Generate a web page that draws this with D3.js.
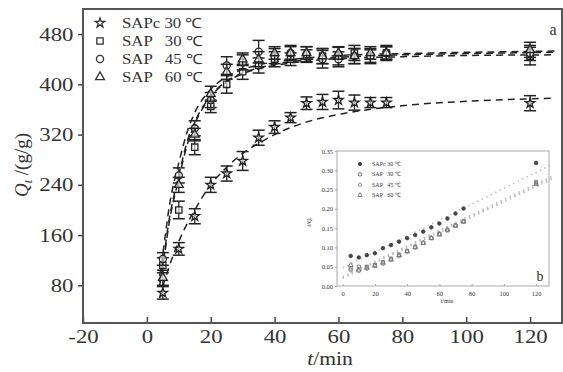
<!DOCTYPE html>
<html>
<head>
<meta charset="utf-8">
<script src="https://cdn.jsdelivr.net/npm/d3@7"></script>
<style>
  body { margin: 0; background: #fff; }
  svg { display: block; }
  text { font-family: "Liberation Serif", "Times New Roman", serif; fill: #333; }
</style>
</head>
<body>
<svg id="chart" width="563" height="372"></svg>
<script>
// main plot data (t in min, Qt in g/g)
var times = [5, 10, 15, 20, 25, 30, 35, 40, 45, 50, 55, 60, 65, 70, 75, 120];
var sapc30 = [68, 138, 190, 240, 258, 278, 315, 332, 347, 370, 372, 375, 371, 371, 371, 370];
var sapc30Err = [10, 10, 12, 12, 12, 15, 12, 10, 8, 10, 12, 14, 12, 8, 8, 12];
var sap30 = [112, 200, 300, 365, 400, 420, 430, 440, 440, 445, 445, 445, 450, 445, 450, 445];
var sap30Err = [12, 14, 12, 10, 14, 12, 12, 12, 10, 10, 12, 14, 12, 12, 10, 14];
var sap45 = [122, 255, 330, 375, 430, 435, 452, 445, 450, 448, 440, 440, 445, 445, 450, 450];
var sap45Err = [10, 12, 12, 12, 14, 12, 18, 12, 10, 12, 14, 12, 12, 10, 12, 12];
var sap60 = [92, 240, 320, 385, 420, 440, 440, 450, 450, 450, 445, 450, 445, 450, 450, 455];
var sap60Err = [12, 12, 10, 12, 12, 10, 12, 10, 12, 10, 12, 10, 12, 10, 10, 12];

var fitTimes = [4, 5, 7, 10, 13, 15, 20, 25, 30, 35, 40, 50, 60, 80, 100, 128];
var fitSapc30 = [60, 78, 110, 150, 182, 200, 240, 268, 290, 306, 320, 340, 352, 366, 373, 378];
var fitSap30 = [85, 115, 185, 255, 315, 340, 382, 405, 418, 426, 432, 439, 443, 447, 449, 451];
var fitSap45 = [95, 130, 205, 275, 330, 355, 392, 412, 424, 431, 436, 442, 446, 449, 451, 453];
var fitSap60 = [80, 110, 180, 250, 310, 337, 380, 404, 417, 425, 430, 437, 441, 444, 446, 447];

var xTicks = [-20, 0, 20, 40, 60, 80, 100, 120];
var yTicks = [80, 160, 240, 320, 400, 480];
var legendLabels = ["SAPc 30 \u2103", "SAP   30 \u2103", "SAP   45 \u2103", "SAP   60 \u2103"];

// inset data (t/Qt)
var insetSapc30 = [0.078, 0.074, 0.080, 0.085, 0.098, 0.106, 0.115, 0.124, 0.132, 0.141, 0.152, 0.162, 0.175, 0.188, 0.201, 0.319];
var insetSap30 = [0.045, 0.050, 0.050, 0.055, 0.062, 0.071, 0.081, 0.091, 0.102, 0.112, 0.124, 0.135, 0.144, 0.157, 0.167, 0.270];
var insetSap45 = [0.041, 0.039, 0.045, 0.053, 0.058, 0.069, 0.077, 0.090, 0.100, 0.112, 0.125, 0.136, 0.146, 0.157, 0.167, 0.267];
var insetSap60 = [0.054, 0.042, 0.047, 0.052, 0.060, 0.068, 0.080, 0.089, 0.100, 0.111, 0.124, 0.133, 0.146, 0.156, 0.167, 0.264];
var insetFitTimes = [0, 130];
var insetFitSapc30 = [0.047, 0.315];
var insetFitSap30 = [0.022, 0.281];
var insetFitSap45 = [0.020, 0.277];
var insetFitSap60 = [0.024, 0.285];
var insetXTicks = [0, 20, 40, 60, 80, 100, 120];
var insetYTicks = [0, 0.05, 0.10, 0.15, 0.20, 0.25, 0.30, 0.35];

var svg = d3.select("#chart");
var stretch = 1.2;

var x = d3.scaleLinear().domain([-20, 130]).range([83, 562]);
var y = d3.scaleLinear().domain([20, 520]).range([323, 9]);

var series = [
    { vals: sapc30, err: sapc30Err, fit: fitSapc30, shape: d3.symbolStar, size: 28 },
    { vals: sap30, err: sap30Err, fit: fitSap30, shape: d3.symbolSquare, size: 40 },
    { vals: sap45, err: sap45Err, fit: fitSap45, shape: d3.symbolCircle, size: 40 },
    { vals: sap60, err: sap60Err, fit: fitSap60, shape: d3.symbolTriangle, size: 34 }
];

// axes
var xAxis = svg.append("g")
    .attr("transform", "translate(0," + y.range()[0] + ")")
    .call(d3.axisBottom(x).tickValues(xTicks).tickFormat(function (d) { return String(d); })
        .tickSizeInner(-6).tickSizeOuter(0).tickPadding(7));
var yAxis = svg.append("g")
    .attr("transform", "translate(" + x.range()[0] + ",0)")
    .call(d3.axisLeft(y).tickValues(yTicks).tickSizeInner(5).tickSizeOuter(0).tickPadding(3));

[xAxis, yAxis].forEach(function (g) {
    g.select(".domain").remove();
    g.selectAll("line").attr("stroke", "#444").attr("stroke-width", 1.5);
    g.selectAll("text")
        .attr("font-size", 19)
        .attr("fill", "#333")
        .attr("transform", "scale(" + stretch + ",1)");
});

// frame
svg.append("rect")
    .attr("x", x.range()[0]).attr("y", y.range()[1])
    .attr("width", x.range()[1] - x.range()[0])
    .attr("height", y.range()[0] - y.range()[1])
    .attr("fill", "none").attr("stroke", "#555").attr("stroke-width", 2);

// fit curves
var fitLine = d3.line()
    .x(function (d, i) { return x(fitTimes[i]); })
    .y(function (d) { return y(d); })
    .curve(d3.curveMonotoneX);

series.forEach(function (s) {
    svg.append("path")
        .attr("d", fitLine(s.fit))
        .attr("fill", "none")
        .attr("stroke", "#222")
        .attr("stroke-width", 1.5)
        .attr("stroke-dasharray", "7,5");
});

// error bars and markers
series.forEach(function (s) {
    var g = svg.append("g");
    times.forEach(function (t, i) {
        var cx = x(t);
        var top = y(s.vals[i] + s.err[i]);
        var bot = y(s.vals[i] - s.err[i]);
        g.append("line").attr("x1", cx).attr("x2", cx).attr("y1", top).attr("y2", bot)
            .attr("stroke", "#222").attr("stroke-width", 1.3);
        g.append("line").attr("x1", cx - 6).attr("x2", cx + 6).attr("y1", top).attr("y2", top)
            .attr("stroke", "#222").attr("stroke-width", 1.5);
        g.append("line").attr("x1", cx - 6).attr("x2", cx + 6).attr("y1", bot).attr("y2", bot)
            .attr("stroke", "#222").attr("stroke-width", 1.5);
        g.append("path")
            .attr("transform", "translate(" + cx + "," + y(s.vals[i]) + ")")
            .attr("d", d3.symbol().type(s.shape).size(s.size)())
            .attr("fill", "#fff").attr("fill-opacity", 0.6)
            .attr("stroke", "#222").attr("stroke-width", 1.3);
    });
});

// legend
legendLabels.forEach(function (lab, i) {
    var ly = 23 + i * 18;
    svg.append("path")
        .attr("transform", "translate(100," + ly + ")")
        .attr("d", d3.symbol().type(series[i].shape).size(series[i].size)())
        .attr("fill", "none").attr("stroke", "#333").attr("stroke-width", 1.3);
    svg.append("text")
        .attr("transform", "translate(122," + (ly + 5) + ") scale(" + stretch + ",1)")
        .attr("font-size", 14)
        .style("white-space", "pre")
        .attr("fill", "#444")
        .text(lab);
});

// axis titles
var yTitle = svg.append("text")
    .attr("transform", "translate(28,165) rotate(-90)")
    .attr("text-anchor", "middle")
    .attr("font-size", 19);
yTitle.append("tspan").attr("font-style", "italic").text("Q");
yTitle.append("tspan").attr("font-style", "italic").attr("font-size", 12).attr("dy", 4).text("t");
yTitle.append("tspan").attr("dy", -4).text(" /(g/g)");

var xTitle = svg.append("text")
    .attr("transform", "translate(330,365) scale(" + stretch + ",1)")
    .attr("text-anchor", "middle")
    .attr("font-size", 18);
xTitle.append("tspan").attr("font-style", "italic").text("t");
xTitle.append("tspan").text("/min");

svg.append("text")
    .attr("transform", "translate(553,35)")
    .attr("text-anchor", "middle")
    .attr("font-size", 16)
    .text("a");

// inset
var xi = d3.scaleLinear().domain([-3.5, 128]).range([337, 549]);
var yi = d3.scaleLinear().domain([0, 0.35]).range([286, 151]);

svg.append("rect")
    .attr("x", xi.range()[0]).attr("y", yi.range()[1])
    .attr("width", xi.range()[1] - xi.range()[0])
    .attr("height", yi.range()[0] - yi.range()[1])
    .attr("fill", "#fff").attr("stroke", "#aaa").attr("stroke-width", 1);

var xiAxis = svg.append("g")
    .attr("transform", "translate(0," + yi.range()[0] + ")")
    .call(d3.axisBottom(xi).tickValues(insetXTicks).tickSizeInner(-2).tickSizeOuter(0).tickPadding(5));
var yiAxis = svg.append("g")
    .attr("transform", "translate(" + xi.range()[0] + ",0)")
    .call(d3.axisLeft(yi).tickValues(insetYTicks).tickFormat(d3.format(".2f")).tickSizeInner(2).tickSizeOuter(0).tickPadding(2));

[xiAxis, yiAxis].forEach(function (g) {
    g.select(".domain").remove();
    g.selectAll("line").attr("stroke", "#aaa");
    g.selectAll("text")
        .attr("font-size", 6.5)
        .attr("fill", "#888");
});

svg.append("text")
    .attr("x", 447).attr("y", 303)
    .attr("text-anchor", "middle")
    .attr("font-size", 6)
    .attr("fill", "#888")
    .html("<tspan font-style='italic'>t</tspan>/min");

svg.append("text")
    .attr("transform", "translate(311,222) rotate(-90)")
    .attr("text-anchor", "middle")
    .attr("font-size", 6)
    .attr("fill", "#888")
    .html("<tspan font-style='italic'>t</tspan>/<tspan font-style='italic'>Q</tspan><tspan font-size='4' dy='1'>t</tspan>");

var insetSeries = [
    { vals: insetSapc30, fit: insetFitSapc30, shape: d3.symbolCircle, color: "#444", fill: "#444" },
    { vals: insetSap30, fit: insetFitSap30, shape: d3.symbolSquare, color: "#777", fill: "none" },
    { vals: insetSap45, fit: insetFitSap45, shape: d3.symbolCircle, color: "#888", fill: "none" },
    { vals: insetSap60, fit: insetFitSap60, shape: d3.symbolTriangle, color: "#777", fill: "none" }
];

var insetLine = d3.line()
    .x(function (d, i) { return xi(insetFitTimes[i]); })
    .y(function (d) { return yi(d); });

insetSeries.forEach(function (s) {
    svg.append("path")
        .attr("d", insetLine(s.fit))
        .attr("fill", "none")
        .attr("stroke", "#bbb")
        .attr("stroke-width", 1.4)
        .attr("stroke-dasharray", "1.5,3.5");
});

insetSeries.forEach(function (s) {
    svg.append("g").selectAll("path")
        .data(s.vals)
        .enter().append("path")
        .attr("transform", function (d, i) { return "translate(" + xi(times[i]) + "," + yi(d) + ")"; })
        .attr("d", d3.symbol().type(s.shape).size(10)())
        .attr("fill", s.fill)
        .attr("stroke", s.color)
        .attr("stroke-width", 0.9);
});

legendLabels.forEach(function (lab, i) {
    var ly = 164 + i * 10.4;
    var s = insetSeries[i];
    svg.append("path")
        .attr("transform", "translate(360," + ly + ")")
        .attr("d", d3.symbol().type(s.shape).size(9)())
        .attr("fill", s.fill).attr("stroke", s.color).attr("stroke-width", 0.9);
    svg.append("text")
        .attr("x", 372).attr("y", ly + 2)
        .attr("font-size", 6)
        .style("white-space", "pre")
        .attr("fill", "#777")
        .text(lab);
});

svg.append("text")
    .attr("x", 540).attr("y", 281)
    .attr("text-anchor", "middle")
    .attr("font-size", 14)
    .text("b");
</script>
</body>
</html>
